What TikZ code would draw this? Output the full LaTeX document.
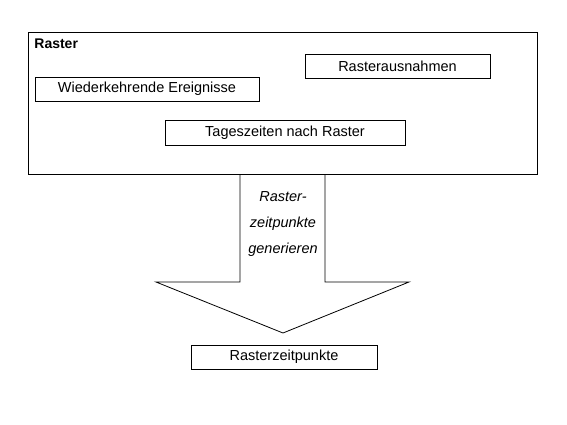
\documentclass[tikz,border=0pt]{standalone}
\usepackage{fontspec}
\setmainfont{Liberation Sans}
\begin{document}
\begin{tikzpicture}[x=1pt, y=-1pt, line width=0.8pt, font=\fontsize{14.5}{17}\selectfont]
    \useasboundingbox (0,0) rectangle (567,425);
    % Raster
    \node (raster) [rectangle, draw, anchor=north west, minimum width=509pt, minimum height=142pt] at (28,32) {};
    \node (title) [anchor=north west, inner sep=0pt, font=\fontsize{14}{17}\selectfont\bfseries] at (34,38) {Raster};

    \node (ausnahmen) [rectangle, draw, minimum width=185pt, minimum height=24pt] at (397.5,66) {Rasterausnahmen};
    \node (ereignisse) [rectangle, draw, minimum width=224pt, minimum height=24pt] at (147,89) {Wiederkehrende Ereignisse};
    \node (tageszeiten) [rectangle, draw, minimum width=240pt, minimum height=25pt] at (285,132.5) {Tageszeiten nach Raster};

    % Ergebnis
    \node (zeitpunkte) [rectangle, draw, minimum width=186pt, minimum height=24pt] at (284,357) {Rasterzeitpunkte};

    % Pfeil
    \coordinate (shaftl) at (raster.south -| 240,0);
    \coordinate (shaftr) at (raster.south -| 325,0);
    \coordinate (tip) at (283,333);
    \draw (shaftl) -- (240,282) -- (156,282) -- (tip) -- (409,282) -- (325,282) -- (shaftr);
    \node (generieren) [align=center, font=\fontsize{14.5}{26}\selectfont\itshape] at (283,224.5) {Raster-\\zeitpunkte\\generieren};
\end{tikzpicture}
\end{document}
